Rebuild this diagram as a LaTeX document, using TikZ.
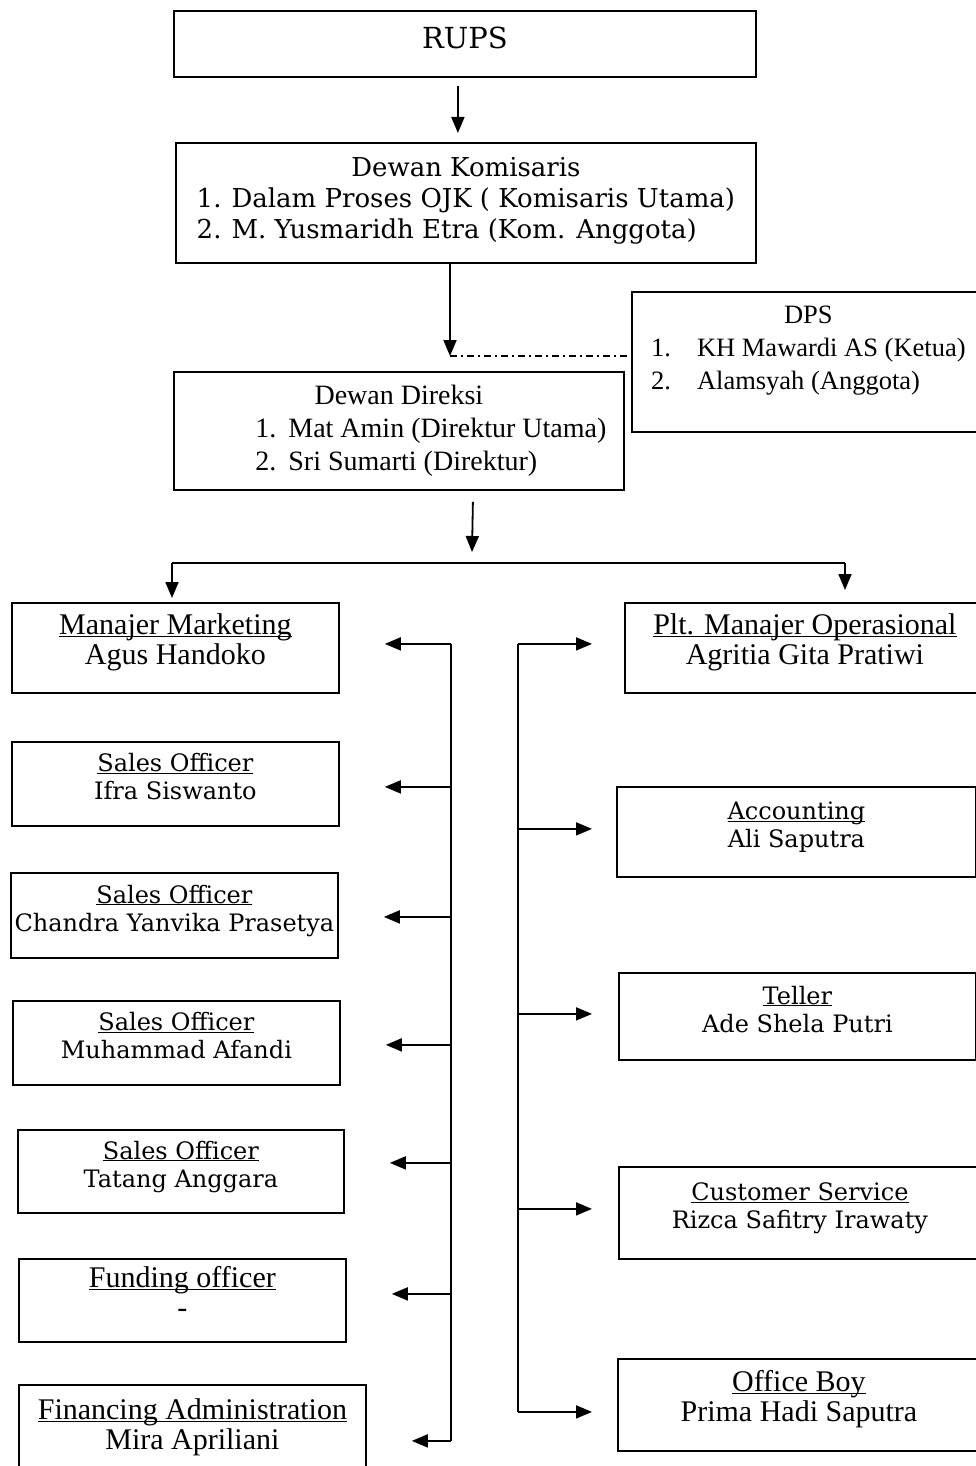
\documentclass[tikz,border=0pt]{standalone}
\usepackage{fontspec}
\setmainfont{DejaVu Serif}
\newfontfamily\narrowfont{Liberation Serif}
\usetikzlibrary{arrows.meta}
\tikzset{
  box/.style={draw, line width=1.8pt, anchor=north west, align=center, inner sep=0pt,
    font=\fontsize{24}{28}\selectfont},
  narrowtext/.style={font=\narrowfont\fontsize{30}{30}\selectfont},
  arr/.style={line width=1.8pt, -{Triangle[length=16pt,width=13pt]}},
  link/.style={line width=1.8pt},
  dashdot/.style={line width=1.4pt, dash pattern=on 7pt off 4pt on 2pt off 4pt},
}
\begin{document}
\begin{tikzpicture}[x=1pt,y=-1pt]
    \newcommand{\postname}[2]{\raisebox{4pt}[\height][\depth]{\begin{tabular}{@{}c@{}}\underline{\smash{#1}}\\#2\end{tabular}}}
    \newcommand{\lifted}[2]{\raisebox{#1}[\height][\depth]{#2}}
  \useasboundingbox (0,0) rectangle (976,1466);

  % top of the chart
  \node[box, font=\fontsize{29}{34}\selectfont, minimum width=582pt, minimum height=66pt] (rups) at (173,10) {\lifted{6pt}{RUPS}};
  \node[box, font=\fontsize{26}{31}\selectfont, minimum width=580pt, minimum height=120pt] (kom) at (175,142)
    {\lifted{2pt}{\begin{tabular}{@{}l@{\hspace{10pt}}l@{}}
      \multicolumn{2}{@{}c@{}}{Dewan Komisaris}\\
      1.&Dalam Proses OJK ( Komisaris Utama)\\
      2.&M. Yusmaridh Etra (Kom. Anggota)
    \end{tabular}}};
  \node[box, font=\narrowfont\fontsize{26.5}{33}\selectfont, minimum width=353pt, minimum height=140pt] (dps) at (631,291)
    {\lifted{12pt}{\begin{tabular}{@{}l@{\hspace{26pt}}l@{}}
      \multicolumn{2}{@{}c@{}}{DPS}\\
      1.&KH Mawardi AS (Ketua)\\
      2.&Alamsyah (Anggota)
    \end{tabular}}};
  \node[box, font=\narrowfont\fontsize{28}{33}\selectfont, minimum width=450pt, minimum height=118pt] (dir) at (173,371)
    {\begin{tabular}{@{\hspace{64pt}}l@{\hspace{12pt}}l@{}}
      \multicolumn{2}{@{}c@{}}{Dewan Direksi}\\
      1.&Mat Amin (Direktur Utama)\\
      2.&Sri Sumarti (Direktur)
    \end{tabular}};

  % left column
  \node[box, narrowtext, minimum width=327pt, minimum height=90pt] (mm) at (11,602) {\postname{Manajer Marketing}{Agus Handoko}};
  \node[box, minimum width=327pt, minimum height=84pt] (so1) at (11,741) {\postname{Sales Officer}{Ifra Siswanto}};
  \node[box, minimum width=327pt, minimum height=85pt] (so2) at (10,872) {\postname{Sales Officer}{Chandra Yanvika Prasetya}};
  \node[box, minimum width=327pt, minimum height=84pt] (so3) at (12,1000) {\postname{Sales Officer}{Muhammad Afandi}};
  \node[box, minimum width=326pt, minimum height=83pt] (so4) at (17,1129) {\postname{Sales Officer}{Tatang Anggara}};
  \node[box, narrowtext, minimum width=327pt, minimum height=83pt] (fo) at (18,1258) {\postname{Funding officer}{-}};
  \node[box, narrowtext, minimum width=347pt, minimum height=95pt] (fa) at (18,1384) {\postname{Financing Administration}{Mira Apriliani}};

  % right column
  \node[box, narrowtext, minimum width=360pt, minimum height=90pt] (po) at (624,602) {\postname{Plt. Manajer Operasional}{Agritia Gita Pratiwi}};
  \node[box, minimum width=359pt, minimum height=90pt] (acc) at (616,786) {\postname{Accounting}{Ali Saputra}};
  \node[box, minimum width=357pt, minimum height=87pt] (tel) at (618,972) {\postname{Teller}{Ade Shela Putri}};
  \node[box, minimum width=362pt, minimum height=92pt] (cs) at (618,1166) {\postname{Customer Service}{Rizca Safitry Irawaty}};
  \node[box, narrowtext, minimum width=362pt, minimum height=92pt] (ob) at (617,1358) {\postname{Office Boy}{Prima Hadi Saputra}};

  \coordinate (join) at (450,356);
  \coordinate (fork) at (472,552);
  \coordinate (bl) at (172,563);
  \coordinate (br) at (845,563);
  \coordinate (ls) at (451,0);
  \coordinate (rs) at (518,0);
  \coordinate (rt) at (592,0);

  \draw[arr] ([xshift=-7pt,yshift=-8pt]rups.south) -- ([xshift=-8pt,yshift=9pt]kom.north);
  \draw[arr] (kom.south -| join) -- (join);
  \draw[dashdot] (join) -- (dps.west |- join);
  \draw[arr] ([xshift=74pt,yshift=-11pt]dir.south) -- (fork);
  \draw[link] (bl) -- (br);
  \draw[arr] (bl) -- ([yshift=4pt]mm.north -| bl);
  \draw[arr] (br) -- ([yshift=12pt]po.north -| br);

  % spines
  \draw[link] ([yshift=4pt]mm.east -| ls) -- ([yshift=-8.5pt]fa.east -| ls);
  \draw[link] ([yshift=4pt]po.west -| rs) -- ([yshift=-7pt]ob.west -| rs);
  \foreach \n/\dy in {mm/4, so1/-3, so2/-1.5, so3/-2, so4/8.5, fo/6.5, fa/-8.5}
    \draw[arr] ([yshift=\dy pt]\n.east -| ls) -- ([xshift=45pt,yshift=\dy pt]\n.east);
  \foreach \n/\dy in {po/4, acc/3, tel/2.5, cs/4, ob/-7}
    \draw[arr] ([yshift=\dy pt]\n.west -| rs) -- ([yshift=\dy pt]\n.west -| rt);

\end{tikzpicture}
\end{document}
